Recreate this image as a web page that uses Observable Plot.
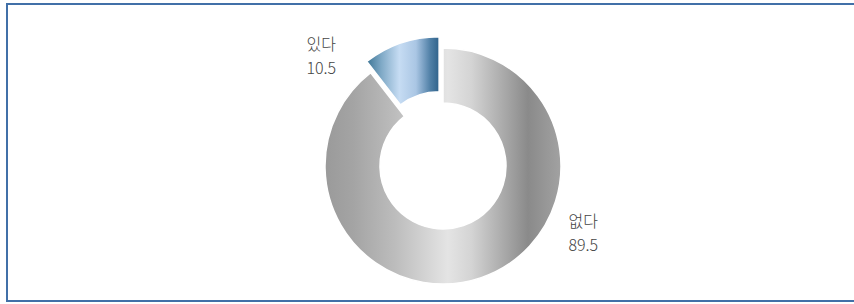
<!DOCTYPE html>
<html>
<head>
<meta charset="utf-8">
<script src="https://cdn.jsdelivr.net/npm/d3@7"></script>
<script src="https://cdn.jsdelivr.net/npm/@observablehq/plot@0.6"></script>
<style>
  html, body { margin: 0; padding: 0; background: #fff; }
  #wrap { position: relative; width: 854px; height: 304px; overflow: hidden; }
  #frame { position: absolute; left: 6px; top: 3px; width: 848px; height: 295px;
           border-top: 2.5px solid #4170a8; border-left: 2.5px solid #4170a8; border-bottom: 2.5px solid #4170a8; box-sizing: content-box; pointer-events: none; }
  svg { display: block; }
</style>
</head>
<body>
<div id="wrap"><div id="chart"></div><div id="frame"></div></div>
<script>
// ---- data ----
const categories = ["있다", "없다"];
const values = [10.5, 89.5];

// ---- layout (not data) ----
const center = {x: 443, y: 166};
const outerR = 118, innerR = 63;
const explode = [12, 0];
const labelPos = [{x: 306, y: 32}, {x: 568, y: 209}];

const rows = categories.map((c, i) => ({category: c, value: values[i], ...labelPos[i]}));
const total = d3.sum(values);

function donut(index, scales) {
  const g = d3.create("svg:g");
  const cx = scales.x(center.x), cy = scales.y(center.y);
  const start = -2 * Math.PI * values[0] / total;
  const pie = d3.pie().sort(null).value(d => d.value)
    .startAngle(start).endAngle(start + 2 * Math.PI);
  const arcs = pie(rows);
  const arc = d3.arc().innerRadius(innerR).outerRadius(outerR);
  const defs = g.append("defs");
  const gg = defs.append("linearGradient").attr("id", "gGray")
    .attr("gradientUnits", "userSpaceOnUse")
    .attr("x1", -outerR).attr("x2", outerR).attr("y1", 0).attr("y2", 0);
  [[0, "#9a9a9a"], [0.12, "#a4a4a4"], [0.3, "#bdbdbd"], [0.52, "#e4e4e4"], [0.62, "#d4d4d4"], [0.86, "#8a8a8a"], [1, "#a2a2a2"]]
    .forEach(([o, c]) => gg.append("stop").attr("offset", o).attr("stop-color", c));
  const fills = ["url(#gBlue)", "url(#gGray)"];
  arcs.forEach((a, i) => {
    const mid = (a.startAngle + a.endAngle) / 2;
    const dx = Math.sin(mid) * explode[i], dy = -Math.cos(mid) * explode[i];
    if (i === 0) {
      const xs = [];
      for (let t = 0; t <= 20; t++) {
        const ang = a.startAngle + (a.endAngle - a.startAngle) * t / 20;
        xs.push(Math.sin(ang) * outerR, Math.sin(ang) * innerR);
      }
      const bg = defs.append("linearGradient").attr("id", "gBlue")
        .attr("gradientUnits", "userSpaceOnUse")
        .attr("x1", d3.min(xs)).attr("x2", d3.max(xs)).attr("y1", 0).attr("y2", 0);
      [[0, "#3d7595"], [0.2, "#7fa9c6"], [0.45, "#c6dcf3"], [0.68, "#aac6e4"], [0.88, "#4f7fa6"], [1, "#2e628b"]]
        .forEach(([o, c]) => bg.append("stop").attr("offset", o).attr("stop-color", c));
    }
    g.append("path")
      .attr("d", arc(a))
      .attr("transform", `translate(${cx + dx},${cy + dy})`)
      .attr("fill", fills[i])
      .attr("stroke", "#fff")
      .attr("stroke-width", 1.5);
  });
  return g.node();
}

const chart = Plot.plot({
  width: 854,
  height: 304,
  margin: 0,
  x: {domain: [0, 854], range: [0, 854], axis: null},
  y: {domain: [0, 304], range: [0, 304], axis: null},
  style: {background: "#fff"},
  marks: [
    donut,
    Plot.text(rows, {
      x: "x", y: "y",
      text: d => `${d.category}\n${d.value}`,
      textAnchor: "start", lineAnchor: "top",
      lineHeight: 1.5,
      fontSize: 16,
      fontFamily: "'Noto Sans CJK KR', 'Noto Sans', sans-serif",
      fontWeight: 300,
      fill: "#444",
      letterSpacing: "1.5px"
    })
  ]
});
document.getElementById("chart").appendChild(chart);
</script>
</body>
</html>
